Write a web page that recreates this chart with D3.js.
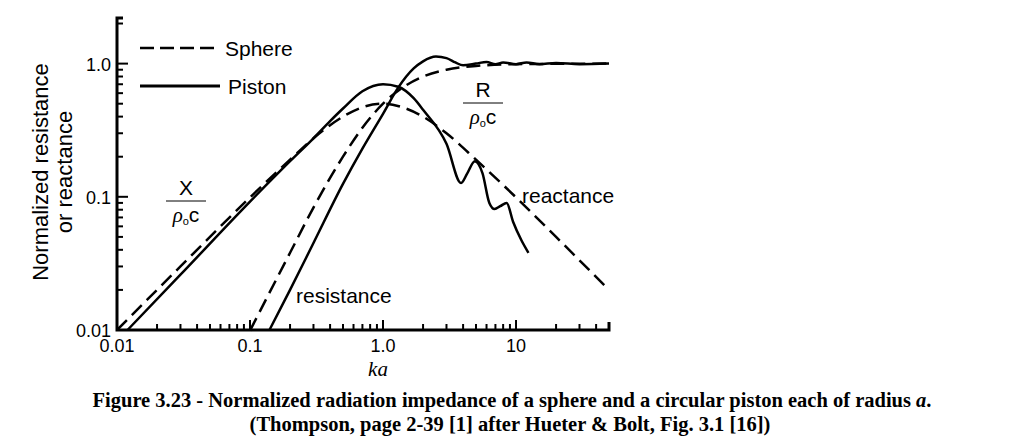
<!DOCTYPE html>
<html><head><meta charset="utf-8">
<script src="https://d3js.org/d3.v7.min.js"></script>
<style>body{margin:0;background:#fff}</style></head>
<body><svg id="vis"></svg>
<script>
// values: [ka, normalized value]
var sphereX = [[0.01,0.01],[0.03,0.03],[0.1,0.099],[0.2,0.19],[0.3,0.275],[0.5,0.4],[0.7,0.47],[1,0.5],[1.4,0.47],[2,0.4],[3,0.3],[5,0.19],[10,0.099],[20,0.05],[50,0.02]]
var sphereR = [[0.1,0.0099],[0.2,0.038],[0.3,0.083],[0.5,0.2],[0.7,0.33],[1,0.5],[1.5,0.69],[2,0.8],[3,0.9],[5,0.96],[10,0.99],[50,1]]
var pistonX = [[0.012,0.01],[0.03,0.026],[0.1,0.092],[0.2,0.185],[0.3,0.275],[0.4,0.37],[0.5,0.46],[0.7,0.62],[1,0.7],[1.3,0.67],[1.7,0.55],[2,0.45],[3,0.25],[3.86,0.127],[4.3,0.15],[4.9,0.185],[5.6,0.15],[6.3,0.09],[6.9,0.081],[7.6,0.085],[8.5,0.09],[9.5,0.065],[11,0.047],[12.4,0.038]]
var pistonR = [[0.14,0.01],[0.2,0.02],[0.3,0.045],[0.5,0.125],[0.7,0.23],[1,0.42],[1.3,0.66],[1.7,0.92],[2,1.04],[2.5,1.13],[3,1.1],[3.5,1.02],[4,0.97],[5,1.0],[6,1.03],[7,0.99],[8,1.02],[10,0.99],[12,1.02],[15,0.99],[20,1.01],[30,0.99],[50,1.0]]
var xTicks = [0.01, 0.1, 1, 10]
var xTickLabels = ['0.01', '0.1', '1.0', '10']
var yTicks = [0.01, 0.1, 1]
var yTickLabels = ['0.01', '0.1', '1.0']

var svg = d3.select('#vis').attr('width', 1024).attr('height', 446)
var x = d3.scaleLog().domain([0.01, 50]).range([117, 609])
var y = d3.scaleLog().domain([0.01, 2.2]).range([330, 18])

// minor ticks
var minors = []
for (var d = 0.01; d < 50; d *= 10) for (var k = 1; k <= 9; k++) if (d * k <= 50) minors.push(d * k)
var yMinors = []
for (var d = 0.01; d < 2.2; d *= 10) for (var k = 1; k <= 9; k++) if (d * k <= 2.2) yMinors.push(d * k)

svg.selectAll('.xt').data(minors).enter().append('line')
  .attr('x1', d => x(d)).attr('x2', d => x(d))
  .attr('y1', 330).attr('y2', d => xTicks.indexOf(+d.toPrecision(3)) >= 0 ? 320 : 324)
  .attr('stroke', '#000').attr('stroke-width', 2)
svg.selectAll('.yt').data(yMinors).enter().append('line')
  .attr('y1', d => y(d)).attr('y2', d => y(d))
  .attr('x1', 117).attr('x2', d => yTicks.indexOf(+d.toPrecision(3)) >= 0 ? 128 : 123)
  .attr('stroke', '#000').attr('stroke-width', 2)
// axes
svg.append('path').attr('d', 'M123,18H117V330H609V322').attr('fill', 'none').attr('stroke', '#000').attr('stroke-width', 3)

svg.selectAll('.xl').data(xTicks).enter().append('text')
  .attr('x', d => x(d)).attr('y', 352).attr('text-anchor', 'middle')
  .style('font', '18px "Liberation Sans", Arial').text((d, i) => xTickLabels[i])
svg.selectAll('.yl').data(yTicks).enter().append('text')
  .attr('x', 111).attr('y', d => y(d) + 7).attr('text-anchor', 'end')
  .style('font', '18px "Liberation Sans", Arial').text((d, i) => yTickLabels[i])

var line = d3.line().x(d => x(d[0])).y(d => y(d[1])).curve(d3.curveMonotoneX)
function draw(data, dashed) {
  svg.append('path').attr('d', line(data)).attr('fill', 'none').attr('stroke', '#000')
    .attr('stroke-width', 2.5).attr('stroke-dasharray', dashed ? '14,7' : null)
}
draw(sphereX, true); draw(sphereR, true); draw(pistonX, false); draw(pistonR, false)

var sans = '"Liberation Sans", Arial'
function txt(t, px, py, size, extra) {
  var e = svg.append('text').attr('x', px).attr('y', py).style('font-family', sans).style('font-size', size + 'px').text(t)
  if (extra) extra(e)
  return e
}
// legend
svg.append('line').attr('x1', 140).attr('x2', 220).attr('y1', 48).attr('y2', 48).attr('stroke', '#000').attr('stroke-width', 2.5).attr('stroke-dasharray', '14,6')
svg.append('line').attr('x1', 140).attr('x2', 220).attr('y1', 86).attr('y2', 86).attr('stroke', '#000').attr('stroke-width', 3)
txt('Sphere', 225, 56, 21)
txt('Piston', 228, 94, 21)
txt('reactance', 522, 203, 21)
txt('resistance', 296, 303, 21)
// fractions
function frac(t, cx, top) {
  txt(t, cx, top + 19, 21, e => e.attr('text-anchor', 'middle'))
  svg.append('line').attr('x1', cx - 20).attr('x2', cx + 20).attr('y1', top + 25).attr('y2', top + 25).attr('stroke', '#000').attr('stroke-width', 1)
  var f = svg.append('text').attr('x', cx).attr('y', top + 46).attr('text-anchor', 'middle').style('font-family', sans).style('font-size', '21px')
  f.append('tspan').style('font-style', 'italic').style('font-family', '"Liberation Serif", serif').text('ρ')
  f.append('tspan').attr('font-size', 11).attr('dy', 3).text('o')
  f.append('tspan').attr('dy', -3).text('c')
}
frac('X', 186, 176)
frac('R', 483, 78)
// y label
svg.append('text').attr('transform', 'translate(48,172) rotate(-90)').attr('text-anchor', 'middle')
  .style('font-family', sans).style('font-size', '22px').text('Normalized resistance')
svg.append('text').attr('transform', 'translate(72,172) rotate(-90)').attr('text-anchor', 'middle')
  .style('font-family', sans).style('font-size', '22px').text('or reactance')
svg.append('text').attr('x', 378).attr('y', 376).attr('text-anchor', 'middle')
  .style('font', 'italic 21px "Liberation Serif", serif').text('ka')
// caption
var cap = svg.append('text').attr('x', 512).attr('y', 407).attr('text-anchor', 'middle')
  .style('font', 'bold 20.5px "Liberation Serif", serif')
cap.append('tspan').text('Figure 3.23 - Normalized radiation impedance of a sphere and a circular piston each of radius ')
cap.append('tspan').style('font-style', 'italic').text('a')
cap.append('tspan').text('.')
svg.append('text').attr('x', 510).attr('y', 431).attr('text-anchor', 'middle')
  .style('font', 'bold 20.5px "Liberation Serif", serif')
  .text('(Thompson, page 2-39 [1] after Hueter & Bolt, Fig. 3.1 [16])')
</script></body></html>
